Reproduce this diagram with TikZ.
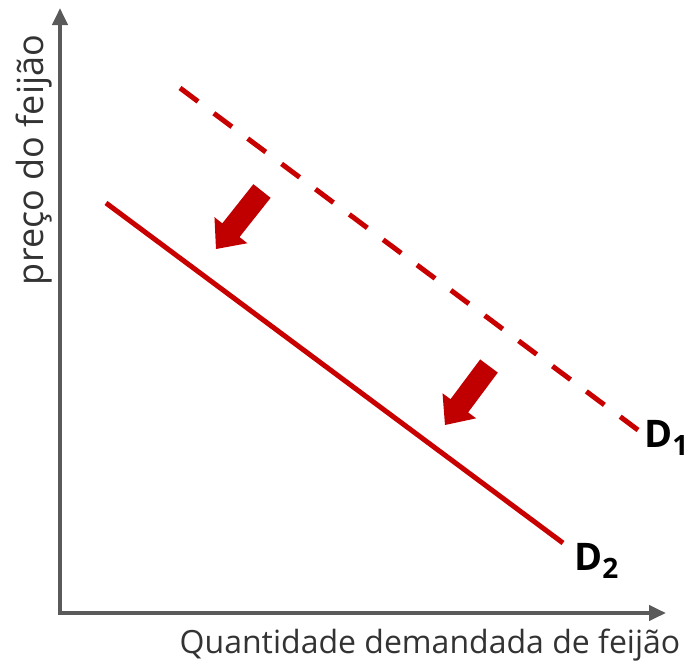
\documentclass[tikz,border=0pt]{standalone}
\usepackage{fontspec}
\setmainfont{Open Sans}
\usetikzlibrary{calc,arrows.meta}
\definecolor{axisgray}{HTML}{5A5A5A}
\definecolor{curvered}{HTML}{C80000}
\definecolor{arrowred}{HTML}{C00000}
\newcommand\blockarr[2]{%
  \coordinate (hb) at ($(#2)!24pt!(#1)$);
  \fill[arrowred] ($(#1)!11pt!90:(#2)$) -- ($(hb)!11pt!90:(#2)$) -- ($(hb)!21pt!90:(#2)$)
     -- (#2) -- ($(hb)!21pt!-90:(#2)$) -- ($(hb)!11pt!-90:(#2)$) -- ($(#1)!11pt!-90:(#2)$) -- cycle;}
\newcommand\dsub[1]{\raisebox{-8pt}{\fontsize{28}{28}\selectfont #1}}
\begin{document}
\begin{tikzpicture}[x=1pt,y=-1pt,
  axis/.style={line width=4pt,draw=axisgray,-{Triangle[length=17pt,width=15pt]}},
  curve/.style={line width=5pt,draw=curvered},
  axlabel/.style={font=\fontsize{32}{32}\selectfont,text=black!80,inner sep=0pt},
  dlabel/.style={font=\bfseries\fontsize{38}{38}\selectfont,inner sep=0pt,anchor=base west}]
\useasboundingbox (0,0) rectangle (694,662);
\coordinate (O) at (60,613);
\coordinate (ytop) at (60,8);
\coordinate (xend) at (666,613);
\draw[axis] (O) -- (ytop);
\draw[axis] ($(O)+(-2,0)$) -- (xend);
\coordinate (d1s) at (180,88);
\coordinate (d1e) at (638,430);
\coordinate (d2s) at (106,203);
\coordinate (d2e) at (563,543);
\draw[curve,dash pattern=on 22.5pt off 19.76pt] (d1s) -- (d1e);
\draw[curve] (d2s) -- (d2e);
\coordinate (a1t) at (262,191);
\coordinate (a1p) at (216,249);
\coordinate (a2t) at (489,366);
\coordinate (a2p) at (445,425);
\blockarr{a1t}{a1p}
\blockarr{a2t}{a2p}
\node[dlabel] (D1) at (644,447) {D\dsub{1}};
\node[dlabel] (D2) at (574,570) {D\dsub{2}};
\node[axlabel,anchor=base] (xl) at (430,653) {Quantidade demandada de feijão};
\node[axlabel,font=\fontsize{36}{36}\selectfont,rotate=90,anchor=base] (yl) at (43,160) {preço do feijão};
\end{tikzpicture}
\end{document}
